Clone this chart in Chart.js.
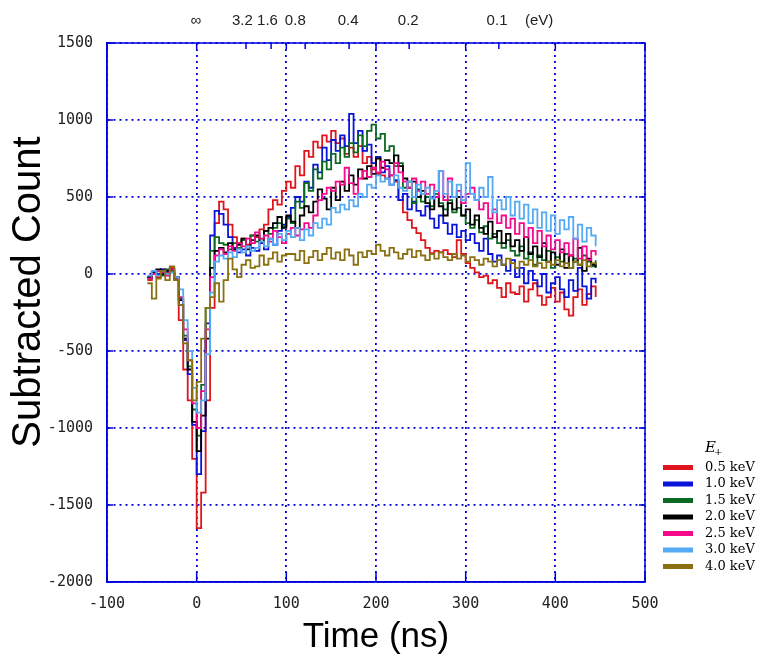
<!DOCTYPE html>
<html>
<head>
<meta charset="utf-8">
<script src="https://cdn.jsdelivr.net/npm/chart.js@4.4.1/dist/chart.umd.min.js"></script>
<style>
body { margin: 0; background: #fff; }
#wrap { width: 760px; height: 655px; }
</style>
</head>
<body>
<div id="wrap"><canvas id="tofChart"></canvas></div>
<script>
// time bins (ns)
const times = [
    -55, -50, -45, -40, -35, -30, -25, -20, -15, -10,
    -5, 0, 5, 10, 15, 20, 25, 30, 35, 40,
    45, 50, 55, 60, 65, 70, 75, 80, 85, 90,
    95, 100, 105, 110, 115, 120, 125, 130, 135, 140,
    145, 150, 155, 160, 165, 170, 175, 180, 185, 190,
    195, 200, 205, 210, 215, 220, 225, 230, 235, 240,
    245, 250, 255, 260, 265, 270, 275, 280, 285, 290,
    295, 300, 305, 310, 315, 320, 325, 330, 335, 340,
    345, 350, 355, 360, 365, 370, 375, 380, 385, 390,
    395, 400, 405, 410, 415, 420, 425, 430, 435, 440,
    445
];

const e05 = [
    -40, 10, -20, 30, 10, 40, -20, -300, -620, -820,
    -1200, -1650, -1420, -820, -220, 330, 470, 420, 320, 240,
    200, 230, 190, 250, 240, 290, 320, 420, 480, 450,
    540, 600, 560, 700, 640, 800, 760, 860, 820, 900,
    860, 930, 850, 880, 780, 820, 760, 830, 720, 760,
    680, 650, 640, 620, 640, 600, 480, 400, 350, 300,
    265, 220, 170, 135, 150, 140, 155, 130, 110, 220,
    130, 70, 40, 10, -20, -10, -60, -40, -90, -150,
    -60, -120, -130, -80, -180, -100, -60, -140, -200, -150,
    -90, -180, -120, -230, -270, -150, -100, -200, -130, -80,
    -150
];
const e10 = [
    -20, 20, 0, 30, 20, 10, -40, -200, -430, -650,
    -980, -1300, -1020, -320, 250, 410, 390, 320, 240, 170,
    140, 160, 120, 170, 150, 200, 160, 230, 190, 280,
    320, 370, 430, 500, 470, 600, 560, 710, 660, 820,
    740, 870, 800, 900, 830, 1040, 850, 930, 800, 840,
    720, 760, 660, 700, 580, 610, 480, 520, 420, 470,
    410, 380, 440, 360, 300, 380, 330, 260, 320, 240,
    280, 220, 260, 200, 150, 230, 130, 80, 120, 60,
    20, 90, -20, 40, -60, 20, -40, -80, 0, -120,
    -60, -20, -100, -150, -40, -110, 40, -80, -160, -30,
    -60
];
const e15 = [
    -30, 0, 20, -10, 30, 20, -30, -160, -400, -600,
    -880, -1050, -720, -220, 150, 240, 200, 190, 160, 200,
    170, 220, 180, 250, 210, 230, 280, 260, 300, 330,
    310, 360, 330, 470, 430, 590, 540, 680, 620, 730,
    680, 780, 720, 820, 760, 850, 790, 900, 830, 930,
    970, 880, 910, 800, 830, 700, 720, 560, 600, 460,
    550, 470, 500, 440, 520, 460, 420, 480, 400, 430,
    380, 330, 300, 350, 270, 310, 230, 260, 200, 170,
    220, 150, 120, 180, 100, 140, 60, 120, 90, 150,
    40, 110, 80, 130, 40, 100, 60, 120, 80, 50,
    90
];
const e20 = [
    -20, 10, 30, 0, 20, 30, -20, -170, -420, -620,
    -960, -1150, -920, -420, 40, 150, 170, 140, 200, 160,
    190, 230, 160, 220, 250, 210, 280, 300, 330, 370,
    300, 380, 340, 300, 380, 440, 400, 470, 550, 490,
    420, 560, 480, 600, 540, 640, 580, 680, 620, 700,
    650, 750, 690, 740, 720, 770, 700, 620, 560, 600,
    500, 540, 460, 420, 500, 440, 380, 460, 420, 500,
    380, 420, 320, 380, 300, 260, 340, 240, 280, 200,
    260, 180, 220, 150, 240, 130, 180, 110, 200, 80,
    140, 60, 160, 40, 120, 80, 170, 20, 100, 60,
    40
];
const e25 = [
    -30, 0, 20, 10, -10, 30, -30, -150, -360, -560,
    -840, -1000, -760, -360, -20, 120, 160, 130, 180, 150,
    200, 180, 230, 200, 270, 230, 250, 210, 280, 240,
    200, 260, 300, 250, 290, 330, 300, 380, 480, 520,
    560, 540, 600, 580, 690, 590, 520, 620, 670, 630,
    690, 660, 730, 680, 640, 720, 660, 600, 560, 620,
    540, 600, 520, 580, 500, 670, 480, 620, 500, 540,
    460, 520, 560, 480, 420, 460, 360, 420, 330, 380,
    300, 360, 260, 330, 240, 300, 200, 280, 180, 250,
    160, 220, 140, 200, 120, 230, 100, 180, 90, 150,
    120
];
const e30 = [
    -10, 20, -10, 20, 0, 10, -20, -100, -300, -500,
    -740, -900, -820, -520, -120, 80, 120, 100, 140, 110,
    160, 140, 180, 150, 170, 210, 180, 230, 190, 260,
    220, 280, 240, 300, 220, 290, 250, 330, 300, 360,
    320, 430, 400, 450, 420, 480, 440, 520, 500, 580,
    560, 640, 600, 620, 580, 640, 560, 540, 600, 500,
    580, 520, 560, 490, 540, 670, 520, 600, 500, 580,
    480, 720, 520, 480, 560, 500, 630, 400, 480, 420,
    500, 380, 470, 360, 450, 330, 420, 300, 400, 280,
    380, 260, 350, 290, 370, 230, 320, 210, 300, 250,
    180
];
const e40 = [
    -60, -160, -30, 20, -40, 50, -40, -200, -450, -560,
    -820, -700, -420, -220, -150, -60, -180, -40, 100, 30,
    -20, 60, 90, 40, 50, 120, 60, 100, 140, 80,
    120, 130, 130, 90, 150, 70, 110, 150, 90, 130,
    170, 100, 140, 90, 160, 120, 60, 140, 110, 150,
    130, 190, 150, 120, 170, 140, 100, 130, 160, 110,
    150, 120, 90, 130, 100, 140, 110, 90, 130, 100,
    120, 80, 110, 90, 60, 100, 80, 50, 90, 60,
    100, 70, 40, 80, 60, 90, 50, 70, 40, 80,
    60, 90, 50, 70, 40, 80, 60, 90, 50, 70,
    60
];

const seriesValues = [e05, e10, e15, e20, e25, e30, e40];
const seriesLabels = ["0.5 keV", "1.0 keV", "1.5 keV", "2.0 keV", "2.5 keV", "3.0 keV", "4.0 keV"];
const seriesColors = ["#e0141c", "#0a14d8", "#0b6a22", "#000000", "#f50a8c", "#55aaf5", "#8a7012"];

// top axis: energy labels placed on the time scale
const topTickTimes = [-1, 51, 79, 110, 169, 236, 335, 382];
const topTickLabels = ["\u221e", "3.2", "1.6", "0.8", "0.4", "0.2", "0.1", "(eV)"];
const topMarkTimes = [55, 83, 121, 170, 237, 337];

const axisBlue = "#0000dd";
const tickFont = { family: "'DejaVu Sans Mono', monospace", size: 15 };

const frameAndLegend = {
    id: "frameAndLegend",
    afterDraw(chart) {
        const { ctx, chartArea: a, scales } = chart;
        ctx.save();
        ctx.strokeStyle = axisBlue;
        ctx.lineWidth = 1.5;
        ctx.strokeRect(a.left, a.top, a.right - a.left, a.bottom - a.top);

        // inward tick marks
        ctx.beginPath();
        scales.x.ticks.forEach(t => {
            const px = scales.x.getPixelForValue(t.value);
            ctx.moveTo(px, a.bottom); ctx.lineTo(px, a.bottom - 10);
            ctx.moveTo(px, a.top); ctx.lineTo(px, a.top + 6);
        });
        scales.y.ticks.forEach(t => {
            const py = scales.y.getPixelForValue(t.value);
            ctx.moveTo(a.left, py); ctx.lineTo(a.left + 6, py);
            ctx.moveTo(a.right, py); ctx.lineTo(a.right - 6, py);
        });
        topMarkTimes.forEach(v => {
            const px = scales.x.getPixelForValue(v);
            ctx.moveTo(px, a.top); ctx.lineTo(px, a.top + 6);
        });
        ctx.stroke();

        // y axis title
        ctx.save();
        ctx.translate(29, 292);
        ctx.rotate(-Math.PI / 2);
        ctx.fillStyle = "#000";
        ctx.font = "40px 'Liberation Sans', Arial";
        ctx.textAlign = "center";
        ctx.textBaseline = "middle";
        ctx.fillText("Subtracted Count", 0, 0);
        ctx.restore();

        // legend
        ctx.fillStyle = "#000";
        ctx.textBaseline = "alphabetic";
        ctx.font = "italic 15px 'DejaVu Serif'";
        ctx.fillText("E", 705, 452);
        ctx.font = "10px 'DejaVu Serif'";
        ctx.fillText("+", 714, 455);
        ctx.textBaseline = "middle";
        ctx.font = "13px 'DejaVu Serif'";
        seriesLabels.forEach((label, i) => {
            const y = 467.5 + i * 16.5;
            ctx.fillStyle = seriesColors[i];
            ctx.fillRect(663, y - 2.5, 30, 5);
            ctx.fillStyle = "#000";
            ctx.fillText(label, 705, y);
        });
        ctx.restore();
    }
};

const tofChart = new Chart(document.getElementById("tofChart"), {
    type: "line",
    data: {
        datasets: seriesValues.map((vals, i) => ({
            label: seriesLabels[i],
            data: times.map((t, j) => ({ x: t, y: vals[j] })),
            borderColor: seriesColors[i],
            borderWidth: 1.8,
            pointRadius: 0,
            stepped: true,
            fill: false,
            order: seriesValues.length - 1 - i,
        })),
    },
    options: {
        responsive: true,
        maintainAspectRatio: false,
        animation: false,
        layout: { padding: { right: 115 } },
        plugins: { legend: { display: false }, tooltip: { enabled: false } },
        scales: {
            x: {
                type: "linear", position: "bottom", min: -100, max: 500,
                afterFit: s => { s.height = 73; },
                ticks: { stepSize: 100, padding: 13, color: "#222", font: tickFont, maxRotation: 0,
                         callback: v => String(v) },
                grid: { color: axisBlue, lineWidth: 1.8, drawTicks: false },
                border: { color: axisBlue, width: 1.5, dash: [2, 4] },
                title: { display: true, text: "Time (ns)", color: "#000", padding: 0,
                         font: { family: "'Liberation Sans', Arial", size: 35, lineHeight: 1 } },
            },
            x2: {
                type: "linear", position: "top", min: -100, max: 500,
                afterFit: s => { s.height = 43; },
                afterBuildTicks: s => { s.ticks = topTickTimes.map(v => ({ value: v })); },
                ticks: { autoSkip: false, padding: 13, color: "#222", maxRotation: 0, minRotation: 0,
                         font: { family: "'Liberation Sans', Arial", size: 15 },
                         callback: (v, i) => topTickLabels[i] },
                grid: { display: false, drawTicks: false },
                border: { display: false },
            },
            y: {
                min: -2000, max: 1500,
                afterFit: s => { s.width = 107; },
                ticks: { stepSize: 500, padding: 14, color: "#222", font: tickFont,
                         callback: v => String(v) },
                grid: { color: axisBlue, lineWidth: 1.8, drawTicks: false },
                border: { color: axisBlue, width: 1.5, dash: [2, 4] },
            },
        },
    },
    plugins: [frameAndLegend],
});
</script>
</body>
</html>
